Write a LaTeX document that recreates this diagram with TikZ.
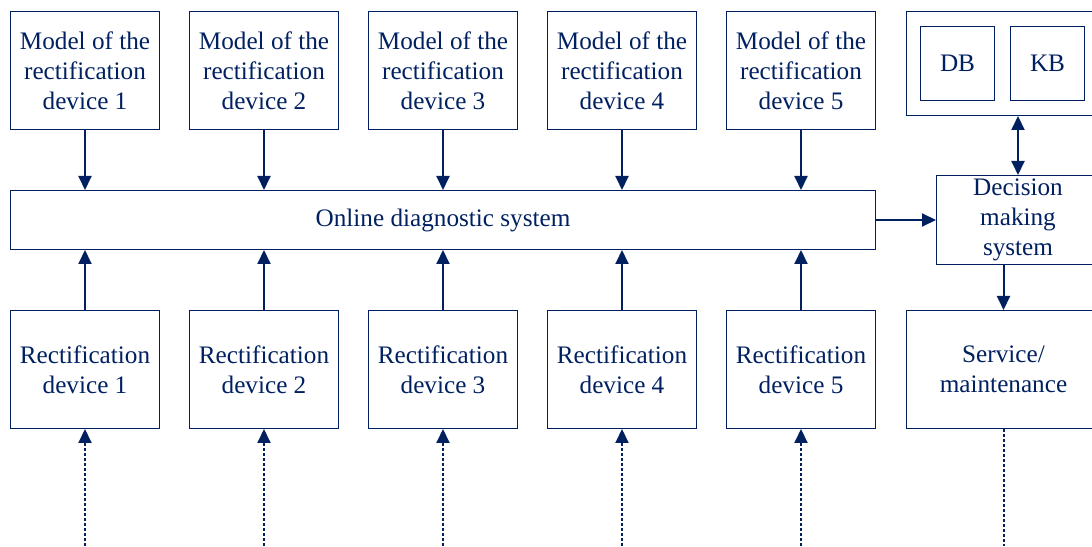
\documentclass[tikz,border=0pt]{standalone}
\usepackage{fontspec}
\setmainfont{Liberation Serif}
\usetikzlibrary{positioning, arrows.meta}
\definecolor{navy}{RGB}{0,32,96}

\begin{document}
\begin{tikzpicture}[x=1pt, y=1pt, node distance=30pt and 14.5pt, >={Triangle[length=7pt, width=6.5pt]},
	every node/.style={text=navy, font=\fontsize{12.6}{15}\selectfont, align=center},
	b/.style={draw=navy, line width=0.7pt, minimum width=74.3pt, minimum height=58.8pt, inner sep=0pt},
	s/.style={b, minimum width=96.8pt},
	e/.style={->, draw=navy, line width=1pt},
	d/.style={e, dash pattern=on 1.5pt off 1pt}]
		\useasboundingbox (0,0) rectangle (546,273);

		\node[b] (m1) at (42.5,237.75) {Model of the\\rectification\\device 1};
		\node[b, right=of m1] (m2) {Model of the\\rectification\\device 2};
		\node[b, right=of m2] (m3) {Model of the\\rectification\\device 3};
		\node[b, right=of m3] (m4) {Model of the\\rectification\\device 4};
		\node[b, right=of m4] (m5) {Model of the\\rectification\\device 5};
		\node[b, minimum width=432.3pt, minimum height=29.3pt, below=of m3] (o) {Online diagnostic system};
		\node[b, below=of o] (r3) {Rectification\\device 3};
		\node[b, left=of r3] (r2) {Rectification\\device 2};
		\node[b, left=of r2] (r1) {Rectification\\device 1};
		\node[b, right=of r3] (r4) {Rectification\\device 4};
		\node[b, right=of r4] (r5) {Rectification\\device 5};
		\node[s, right=15pt of r5] (sv) {Service/\\maintenance};
		\node[b, minimum width=81.3pt, minimum height=44.3pt, right=30pt of o] (dm) {Decision\\making\\system};
		\node[s, minimum height=51.8pt, anchor=north west] (st) at ([xshift=15pt]m5.north east) {};
		\node[b, minimum width=36.8pt, minimum height=36.8pt, right=7pt of st.west] (db) {DB};
		\node[b, minimum width=36.8pt, minimum height=36.8pt, right=7.5pt of db] (kb) {KB};
		\coordinate (g) at (0,0);

		\draw[e] (m1.south) -- (m1.south |- o.north);
		\draw[e] (m2.south) -- (m2.south |- o.north);
		\draw[e] (m3.south) -- (m3.south |- o.north);
		\draw[e] (m4.south) -- (m4.south |- o.north);
		\draw[e] (m5.south) -- (m5.south |- o.north);
		\draw[e] (r1.north) -- (r1.north |- o.south);
		\draw[e] (r2.north) -- (r2.north |- o.south);
		\draw[e] (r3.north) -- (r3.north |- o.south);
		\draw[e] (r4.north) -- (r4.north |- o.south);
		\draw[e] (r5.north) -- (r5.north |- o.south);
		\draw[d] (r1.south |- g) -- (r1.south);
		\draw[d] (r2.south |- g) -- (r2.south);
		\draw[d] (r3.south |- g) -- (r3.south);
		\draw[d] (r4.south |- g) -- (r4.south);
		\draw[d] (r5.south |- g) -- (r5.south);
		\draw[e] (o) -- (dm);
		\draw[e, <->] (st.south -| dm) -- (dm);
		\draw[e] (dm.south -| sv) -- (sv);
		\draw[d, -] (sv) -- (sv |- g);
	\end{tikzpicture}
\end{document}
